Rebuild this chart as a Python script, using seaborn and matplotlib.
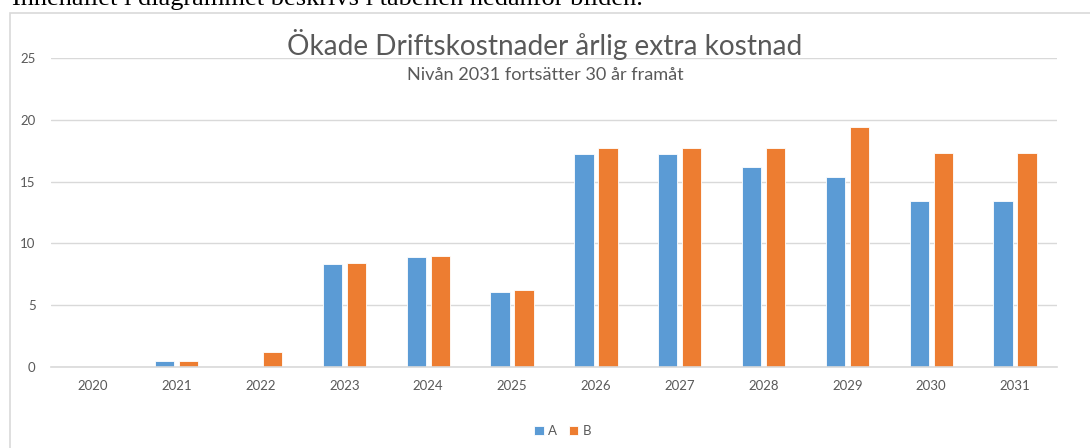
import numpy as np
import matplotlib.pyplot as plt
import pandas as pd
import seaborn as sns
from matplotlib.patches import Rectangle

# data
years = ['2020', '2021', '2022', '2023', '2024', '2025',
         '2026', '2027', '2028', '2029', '2030', '2031']
serie_a = [0, 0.45, 0, 8.35, 8.9, 6.05, 17.2, 17.2, 16.2, 15.4, 13.4, 13.4]
serie_b = [0, 0.45, 1.2, 8.4, 8.95, 6.2, 17.7, 17.7, 17.7, 19.4, 17.3, 17.3]
series_names = ['A', 'B']
colors = ['#5B9BD5', '#ED7D31']

df = pd.DataFrame({
    'Year': years * 2,
    'Value': serie_a + serie_b,
    'Serie': ['A'] * len(years) + ['B'] * len(years),
})

sns.set_style('white')
plt.rcParams['font.family'] = ['Lato', 'DejaVu Sans']

fig = plt.figure(figsize=(10.9, 4.48), dpi=100)
ax = fig.add_axes([0.0468, 0.1808, 0.9229, 0.6897])

sns.barplot(data=df, x='Year', y='Value', hue='Serie', hue_order=series_names,
            palette=colors, width=0.573, gap=0.2, ax=ax,
            edgecolor='white', linewidth=0.6, saturation=1, legend=True)

ax.set_ylim(0, 25)
ax.set_xlim(-0.5, len(years) - 0.5)
ax.set_yticks([0, 5, 10, 15, 20, 25])
ax.yaxis.grid(True, color='#d9d9d9', linewidth=1)
ax.set_axisbelow(True)
for s in ['top', 'right', 'left']:
    ax.spines[s].set_visible(False)
ax.spines['bottom'].set_color('#d9d9d9')
ax.spines['bottom'].set_linewidth(1.2)
ax.tick_params(axis='both', length=0, labelsize=9.5, labelcolor='#595959')
ax.tick_params(axis='y', pad=11)
ax.tick_params(axis='x', pad=9)
ax.set_xlabel('')
ax.set_ylabel('')

# legend at the bottom
ax.legend(loc='center', bbox_to_anchor=(0.5083, -0.207), ncol=2, frameon=False,
          fontsize=9.5, handlelength=0.75, handleheight=0.75, handletextpad=0.3,
          columnspacing=0.9, labelcolor='#595959')

# titles
fig.text(0.5, 1 - 45 / 448, 'Ökade Driftskostnader årlig extra kostnad',
         ha='center', va='center', fontsize=20.2, color='#595959')
fig.text(0.5, 1 - 75 / 448, 'Nivån 2031 fortsätter 30 år framåt',
         ha='center', va='center', fontsize=13.1, color='#595959')

# chart frame and cut off page text above it
fig.patches.append(Rectangle((10 / 1090, -0.2), 1.2, 1.2 - 13 / 448,
                             transform=fig.transFigure, fill=False,
                             edgecolor='#d9d9d9', linewidth=1.2))
fig.text(12 / 1090, 1 - 4.5 / 448, 'Innehållet i diagrammet beskrivs i tabellen nedanför bilden.',
         ha='left', va='baseline', fontsize=19, color='black', family='Liberation Serif')

fig.savefig('out.png', dpi=100)
